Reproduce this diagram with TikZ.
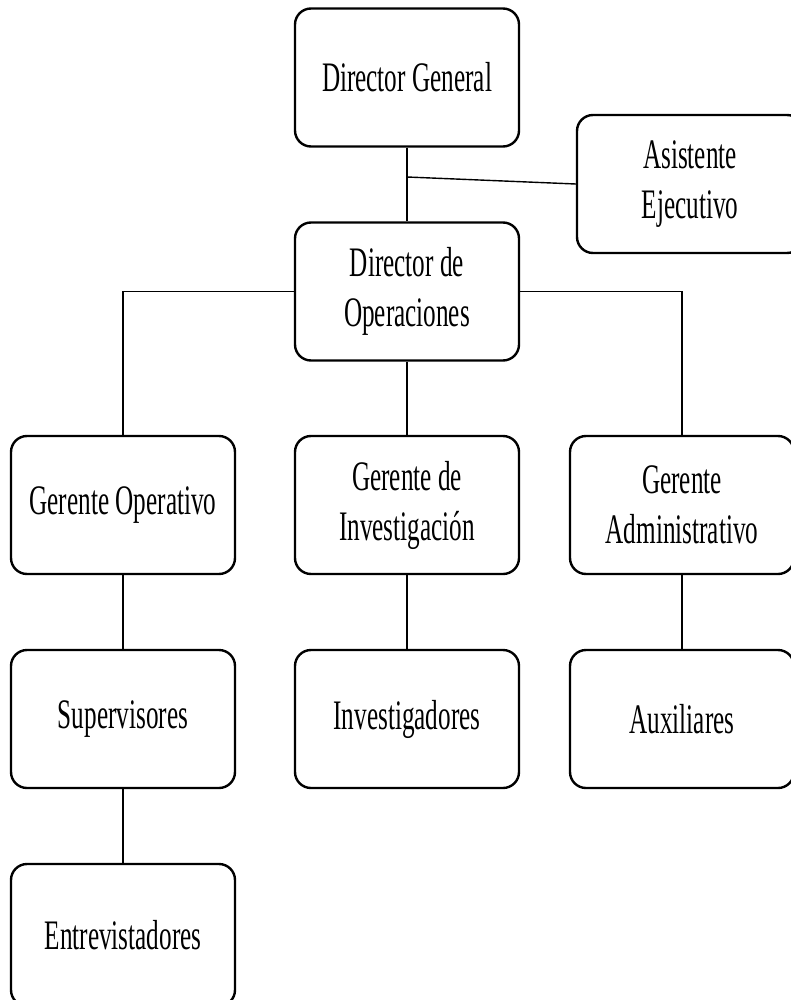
\documentclass[tikz,border=0pt]{standalone}
\usepackage{fontspec}
\setmainfont[FakeStretch=0.6]{Liberation Serif}
\begin{document}
\begin{tikzpicture}[x=1pt,y=-1pt,
  box/.style={draw, line width=2.4pt, rounded corners=16pt, minimum width=224pt,
    minimum height=138pt, inner sep=0pt, align=center,
    font=\fontsize{42}{50}\selectfont},
  link/.style={line width=1.4pt}]
\useasboundingbox[fill=white] (0,0) rectangle (790,1000);
\node[box] (dg) at (407,77.5) {Director General};
\node[box, minimum width=226pt] (ae) at (690,184) {Asistente\\Ejecutivo};
\node[box] (do) at (407,291.5) {Director de\\Operaciones};
\node[box] (go) at (123,505) {Gerente Operativo};
\node[box] (gi) at (407,505) {Gerente de\\Investigación};
\node[box] (ga) at (682,505) {Gerente\\Administrativo};
\node[box] (su) at (123,719) {Supervisores};
\node[box] (in) at (407,719) {Investigadores};
\node[box] (au) at (682,719) {Auxiliares};
\node[box, minimum height=142pt] (en) at (123,935) {Entrevistadores};
\coordinate (j) at (407,177);
\draw[link] (dg.south) -- (do.north);
\draw[link] (j) -- (ae.west);
\draw[link] (do.west) -| (go.north);
\draw[link] (do.east) -| (ga.north);
\draw[link] (do.south) -- (gi.north);
\draw[link] (go.south) -- (su.north);
\draw[link] (gi.south) -- (in.north);
\draw[link] (ga.south) -- (au.north);
\draw[link] (su.south) -- (en.north);
\end{tikzpicture}
\end{document}
